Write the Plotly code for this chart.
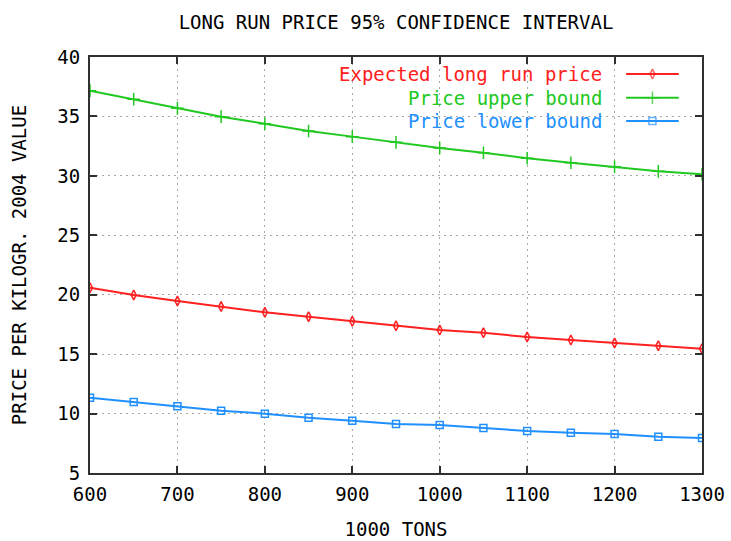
import plotly.graph_objects as go

# Production (1000 tons) and price estimates per kilogram, 2004 value
tons = [600, 650, 700, 750, 800, 850, 900, 950, 1000, 1050, 1100, 1150, 1200, 1250, 1300]
expected = [20.59, 19.98, 19.47, 19.00, 18.52, 18.15, 17.76, 17.39, 17.03, 16.80,
            16.44, 16.19, 15.94, 15.71, 15.46]
upper = [37.17, 36.44, 35.68, 34.98, 34.38, 33.77, 33.30, 32.82, 32.34, 31.95,
         31.48, 31.10, 30.77, 30.38, 30.13]
lower = [11.34, 10.97, 10.61, 10.24, 9.99, 9.65, 9.40, 9.12, 9.04, 8.79,
         8.53, 8.39, 8.28, 8.06, 7.94]

series_names = ["Expected long run price", "Price upper bound", "Price lower bound"]
series_values = [expected, upper, lower]
colors = ["#ff2020", "#20c820", "#2090ff"]
symbols = ["diamond-tall-open", "cross-thin-open", "square-open"]
sizes = [7, 9, 7]

x_ticks = [600, 700, 800, 900, 1000, 1100, 1200, 1300]
y_ticks = [5, 10, 15, 20, 25, 30, 35, 40]

FONT = "DejaVu Sans Mono"
FSIZE = 19

fig = go.Figure()

for name, vals, col, sym, sz in zip(series_names, series_values, colors, symbols, sizes):
    fig.add_trace(go.Scatter(
        x=tons, y=vals, name=name, mode="lines+markers",
        line=dict(color=col, width=2),
        marker=dict(symbol=sym, size=sz, color=col, line=dict(color=col, width=1.5)),
        showlegend=False,
    ))

# Key drawn in the upper right: label on the left, line sample on the right
key_rows = [0.959, 0.902, 0.846]
key_x0, key_x1 = 0.876, 0.962
for name, col, sym, sz, ky in zip(series_names, colors, symbols, sizes, key_rows):
    fig.add_trace(go.Scatter(
        x=[key_x0, (key_x0 + key_x1) / 2, key_x1], y=[ky, ky, ky],
        xaxis="x2", yaxis="y2", mode="lines+markers",
        line=dict(color=col, width=2),
        marker=dict(symbol=sym, size=[0, sz, 0], color=col, line=dict(color=col, width=1.5)),
        showlegend=False, hoverinfo="skip",
    ))
    fig.add_annotation(
        x=0.840, y=ky, xref="paper", yref="paper", text=name,
        showarrow=False, xanchor="right", yanchor="middle",
        font=dict(family=FONT, size=FSIZE, color=col),
    )

# Opaque key background hiding the grid behind it
fig.add_shape(type="rect", xref="paper", yref="paper",
              x0=0.405, x1=0.977, y0=0.825, y1=1.0,
              fillcolor="white", line=dict(width=0), layer="between")

axis_common = dict(
    showline=True, linecolor="#303030", linewidth=2, mirror="ticks",
    ticks="inside", ticklen=7, tickcolor="#303030", tickwidth=1.5,
    showgrid=True, gridcolor="#a8a8a8", gridwidth=1, griddash="2px,4px",
    zeroline=False, automargin=False,
    tickfont=dict(family=FONT, size=FSIZE, color="#000000"),
)

fig.update_layout(
    width=731, height=541,
    margin=dict(l=90, r=29, t=57, b=68),
    paper_bgcolor="white", plot_bgcolor="white",
    title=dict(text="LONG RUN PRICE 95% CONFIDENCE INTERVAL",
               x=(90 + 702) / 2 / 731, xanchor="center", y=1 - 22 / 541, yanchor="middle",
               font=dict(family=FONT, size=FSIZE, color="#000000")),
    xaxis=dict(range=[600, 1300], tickvals=x_ticks, ticklabelstandoff=3,
               title=dict(text="1000 TONS", font=dict(family=FONT, size=FSIZE, color="#000000"), standoff=19),
               **axis_common),
    yaxis=dict(range=[5, 40], tickvals=y_ticks, ticklabelstandoff=4,
               title=dict(text="PRICE PER KILOGR. 2004 VALUE", font=dict(family=FONT, size=FSIZE, color="#000000"), standoff=26),
               **axis_common),
    xaxis2=dict(range=[0, 1], overlaying="x", visible=False, showgrid=False),
    yaxis2=dict(range=[0, 1], overlaying="y", visible=False, showgrid=False),
)

fig.write_html("out.html")
